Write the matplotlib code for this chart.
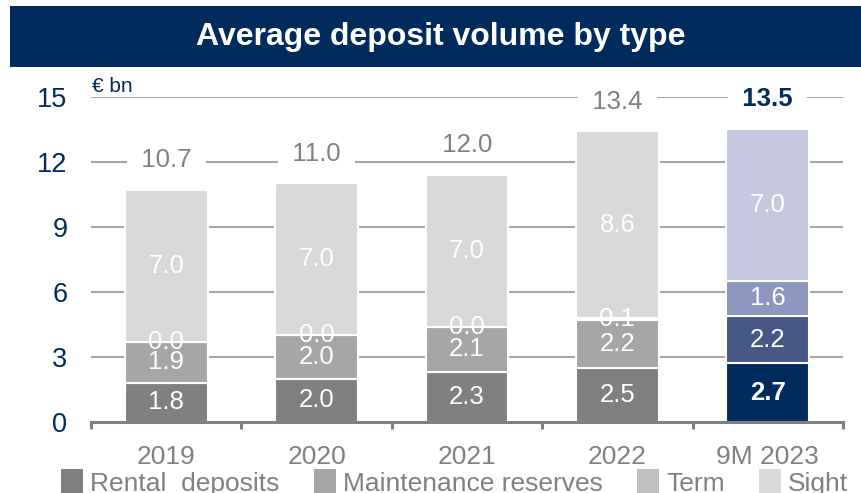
import matplotlib
matplotlib.use("Agg")
import matplotlib.pyplot as plt
from matplotlib.patches import Patch, Rectangle
import numpy as np

plt.rcParams['font.family'] = ['Liberation Sans', 'DejaVu Sans']

# ---- data ----
categories = ["2019", "2020", "2021", "2022", "9M 2023"]
series_names = ["Rental  deposits", "Maintenance reserves", "Term", "Sight"]
rental = [1.8, 2.0, 2.3, 2.5, 2.7]
maintenance = [1.9, 2.0, 2.1, 2.2, 2.2]
term = [0.0, 0.0, 0.0, 0.1, 1.6]
sight = [7.0, 7.0, 7.0, 8.6, 7.0]
total_labels = ["10.7", "11.0", "12.0", "13.4", "13.5"]
yticks = [0, 3, 6, 9, 12, 15]

# ---- styles ----
NAVY = "#002B5C"
GRAY_TXT = "#808080"
grey_cols = ["#808080", "#A6A6A6", "#BFBFBF", "#D9D9D9"]
hl_cols = ["#002B5C", "#465788", "#8C96BF", "#C5C8DF"]

W, H = 861, 493
fig = plt.figure(figsize=(W / 100, H / 100), dpi=100)

# title band
fig.patches.append(Rectangle((10 / W, 1 - 67 / H), 1 - 10 / W, 61 / H,
                             transform=fig.transFigure, facecolor=NAVY,
                             edgecolor="none", zorder=0))
fig.text(441 / W, 1 - 37 / H, "Average deposit volume by type", color="white",
         fontsize=23, fontweight="bold", ha="center", va="center")

ax_l, ax_r = 91 / W, 843 / W
ax_b, ax_t = 1 - 422 / H, 1 - 96.7 / H
ax = fig.add_axes([ax_l, ax_b, ax_r - ax_l, ax_t - ax_b])
ax.set_xlim(-0.5, len(categories) - 0.5)
ax.set_ylim(0, 15)

for yv in yticks[1:]:
    ax.axhline(yv, color="#A6A6A6", lw=1.5, zorder=0)

x = np.arange(len(categories))
series = [rental, maintenance, term, sight]
bottom = np.zeros(len(categories))
for si, vals in enumerate(series):
    vals = np.array(vals)
    colors = [hl_cols[si] if i == len(categories) - 1 else grey_cols[si]
              for i in range(len(categories))]
    ax.bar(x, vals, 0.55, bottom=bottom, color=colors, edgecolor="white",
           linewidth=1.5, zorder=2)
    for i, v in enumerate(vals):
        bold = (i == len(categories) - 1 and si == 0)
        ax.text(x[i], bottom[i] + v / 2, f"{v:.1f}", ha="center", va="center",
                color="white", fontsize=18.5,
                fontweight="bold" if bold else "normal", zorder=4)
    bottom = bottom + vals

for i, lab in enumerate(total_labels):
    last = i == len(categories) - 1
    ax.annotate("  " + lab + "  ", (x[i], bottom[i]), xytext=(0, 21.5),
                textcoords="offset points", ha="center", va="center",
                fontsize=18.5, color=NAVY if last else GRAY_TXT,
                fontweight="bold" if last else "normal",
                bbox=dict(boxstyle="square,pad=0.0", fc="white", ec="none"),
                zorder=3, annotation_clip=False)

for s in ["left", "right", "top"]:
    ax.spines[s].set_visible(False)
ax.spines["bottom"].set_color("#808080")
ax.spines["bottom"].set_linewidth(2.2)
ax.spines["bottom"].set_zorder(5)

ax.set_yticks(yticks)
ax.set_yticklabels([str(t) for t in yticks])
ax.tick_params(axis="y", length=0, pad=17, labelsize=19.5, labelcolor=NAVY)
ax.set_xticks(x)
ax.set_xticklabels(categories)
ax.tick_params(axis="x", which="major", length=0, pad=16.5, labelsize=19,
               labelcolor=GRAY_TXT)
ax.set_xticks(np.arange(-0.5, len(categories)), minor=True)
ax.tick_params(axis="x", which="minor", length=5, width=2.2, color="#808080",
               direction="out")

fig.text(92 / W, 1 - 86 / H, "€ bn", color=NAVY, fontsize=15,
         ha="left", va="center")

handles = [Patch(facecolor=c, edgecolor="none") for c in grey_cols]
fig.legend(handles, series_names, loc="upper left",
           bbox_to_anchor=(61 / W, 1 - 469 / H), ncol=4, frameon=False,
           fontsize=19, labelcolor=GRAY_TXT, borderpad=0, borderaxespad=0,
           handlelength=0.85, handleheight=1.1, handletextpad=0.25,
           columnspacing=1.3)

fig.savefig("out.png", dpi=100)
